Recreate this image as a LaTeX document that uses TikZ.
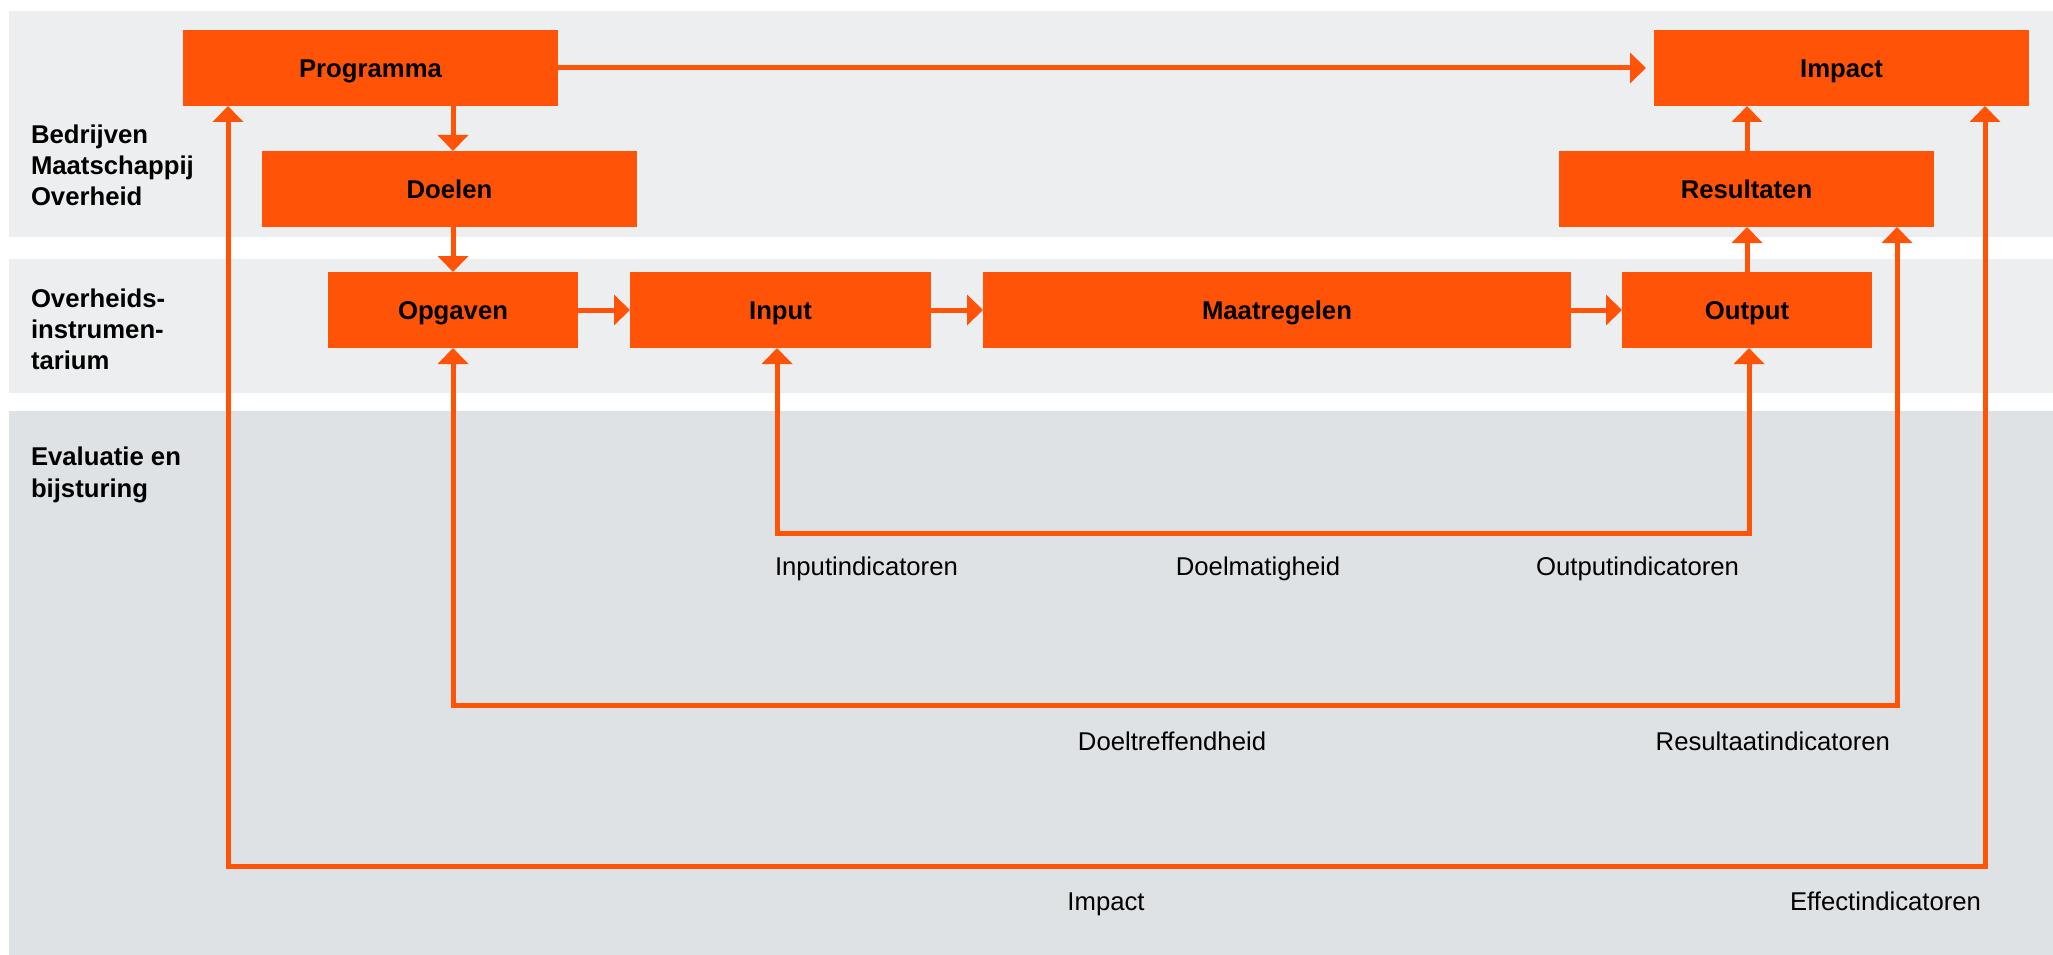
\documentclass[tikz,border=0pt]{standalone}
\usepackage{fontspec}
\setmainfont{Liberation Sans}
\usetikzlibrary{arrows.meta}
\definecolor{orng}{RGB}{255,83,8}
\definecolor{bandA}{RGB}{237,238,240}
\definecolor{bandB}{RGB}{223,226,229}
\begin{document}
\begin{tikzpicture}[x=1pt,y=-1pt,
  box/.style={fill=orng, inner sep=0pt, outer sep=0pt, minimum height=76pt,
    text height=18.4pt, text depth=0pt,
    font=\fontsize{25.7}{30}\selectfont\bfseries},
  rowlab/.style={inner sep=0pt, outer sep=0pt, anchor=base west,
    font=\fontsize{25.7}{30}\selectfont\bfseries},
  ind/.style={inner sep=0pt, outer sep=0pt, font=\fontsize{25.7}{30}\selectfont},
  conn/.style={draw=orng, line width=5pt, line join=miter},
  tip/.style={conn, -{Triangle[length=16pt,width=30pt]}},
  bitip/.style={conn, {Triangle[length=16pt,width=30pt]}-{Triangle[length=16pt,width=30pt]}}
]
\useasboundingbox (0,0) rectangle (2053,955);
\fill[white] (0,0) rectangle (2053,955);
% bands
\fill[bandA] (9,11) rectangle (2053,237);
\fill[bandA] (9,259) rectangle (2053,393);
\fill[bandB] (9,411) rectangle (2053,955);

% row labels
\node[rowlab] (la1) at (31,143) {Bedrijven};
\node[rowlab] (la2) at (31,174) {Maatschappij};
\node[rowlab] (la3) at (31,205) {Overheid};
\node[rowlab] (lb1) at (31,307) {Overheids-};
\node[rowlab] (lb2) at (31,338) {instrumen-};
\node[rowlab] (lb3) at (31,369) {tarium};
\node[rowlab] (lc1) at (31,465) {Evaluatie en};
\node[rowlab] (lc2) at (31,497) {bijsturing};

% boxes
\node[box, minimum width=375pt] (prog) at (370.5,68) {Programma};
\node[box, minimum width=375pt] (imp)  at (1841.5,68) {Impact};
\node[box, minimum width=375pt] (doel) at (449.5,189) {Doelen};
\node[box, minimum width=375pt] (res)  at (1746.5,189) {Resultaten};
\node[box, minimum width=250pt] (opg)  at (453,310) {Opgaven};
\node[box, minimum width=301pt] (inp)  at (780.5,310) {Input};
\node[box, minimum width=588pt] (maat) at (1277,310) {Maatregelen};
\node[box, minimum width=250pt] (outp) at (1747,310) {Output};

% direct arrows
\draw[tip, shorten >=8pt] (prog.east) -- (imp.west);
\draw[tip] (prog.south -| opg.north) -- (doel.north -| opg.north);
\draw[tip] (doel.south -| opg.north) -- (opg.north);
\draw[tip] (opg.east) -- (inp.west);
\draw[tip] (inp.east) -- (maat.west);
\draw[tip] (maat.east) -- (outp.west);
\draw[tip] (outp.north) -- (res.south -| outp.north);
\draw[tip] (res.north -| outp.north) -- (imp.south -| outp.north);

% feedback loops
\coordinate (e1) at (777,533);
\coordinate (e2) at (1749,533);
\coordinate (d1) at (453,705.5);
\coordinate (d2) at (1897,705.5);
\coordinate (i1) at (228,866.5);
\coordinate (i2) at (1985,866.5);
\draw[bitip] (inp.south -| e1) -- (e1) -- (e2) -- (outp.south -| e2);
\draw[bitip] (opg.south -| d1) -- (d1) -- (d2) -- (res.south -| d2);
\draw[bitip] (prog.south -| i1) -- (i1) -- (i2) -- (imp.south -| i2);

% indicator labels
\node[ind, anchor=base west] (t1) at (775,575) {Inputindicatoren};
\node[ind, anchor=base] (t2) at (1258,575) {Doelmatigheid};
\node[ind, anchor=base east] (t3) at (1739,575) {Outputindicatoren};
\node[ind, anchor=base] (t4) at (1172,750) {Doeltreffendheid};
\node[ind, anchor=base east] (t5) at (1890,750) {Resultaatindicatoren};
\node[ind, anchor=base] (t6) at (1106,910) {Impact};
\node[ind, anchor=base east] (t7) at (1981,910) {Effectindicatoren};
\end{tikzpicture}
\end{document}
